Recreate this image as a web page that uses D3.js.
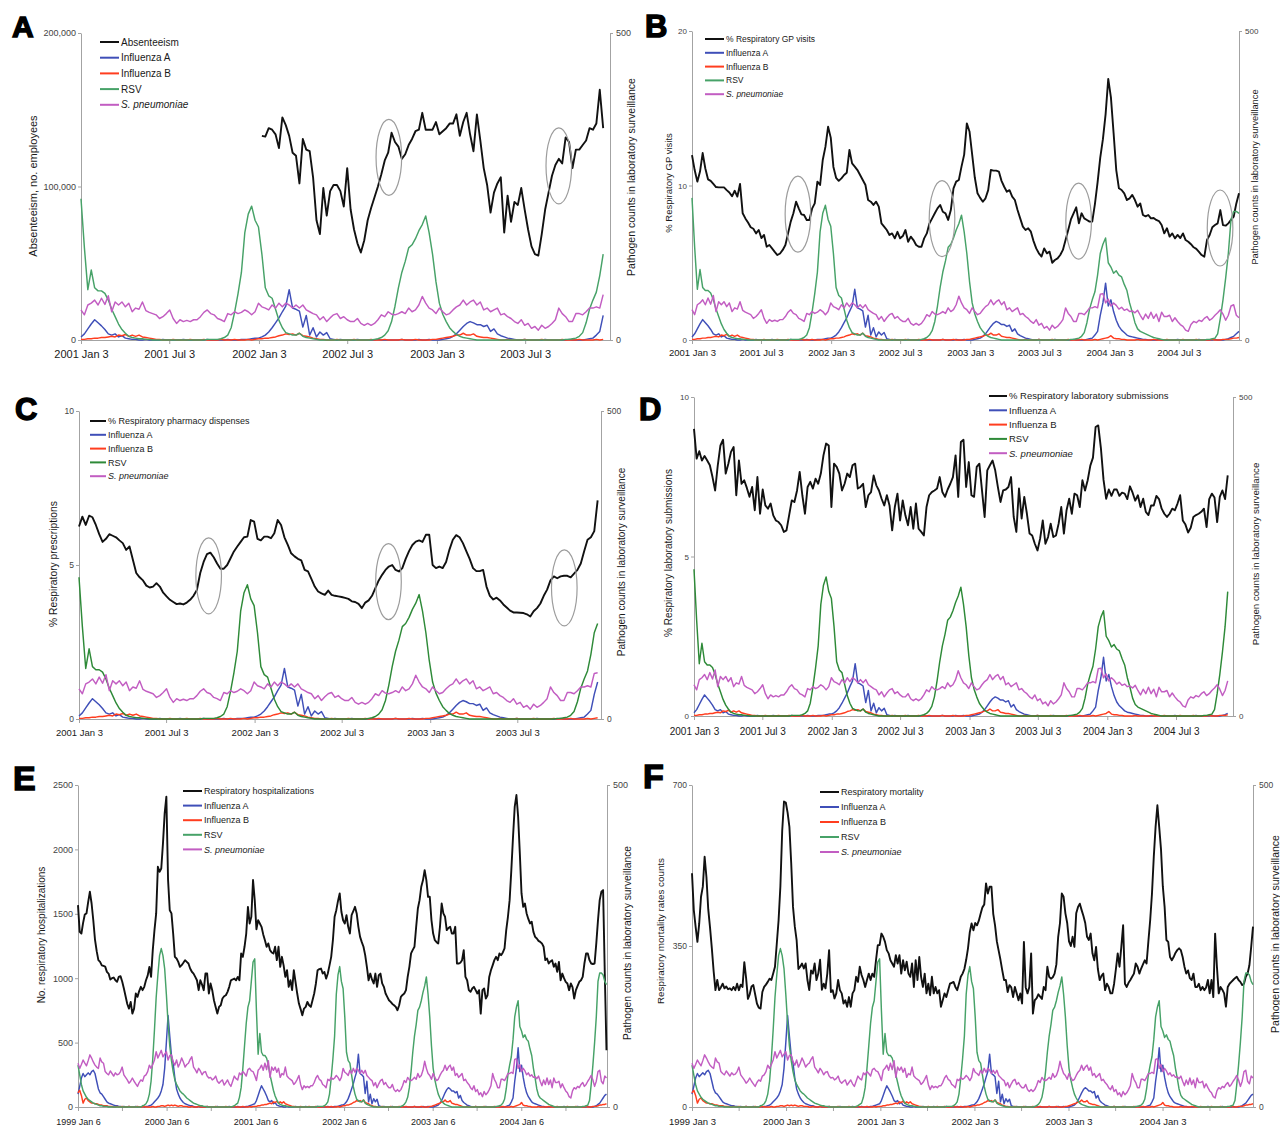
<!DOCTYPE html>
<html>
<head>
<meta charset="utf-8">
<script src="https://cdn.jsdelivr.net/npm/d3@7"></script>
<style>
  body { margin: 0; background: #fff; }
  svg { display: block; font-family: "Liberation Sans", Arial, sans-serif; }
</style>
</head>
<body>
<svg id="chart" width="1280" height="1126"></svg>
<script>
// weekly laboratory surveillance counts, index 0 = 1999 Jan 3 (one row per year)
var fluA = [
  20,32,45,52,47,50,53,50,55,57,52,40,28,22,20,16,12,8,6,5,4,3,2,2,1,1, 0,1,0,0,1,0,0,0,1,0,0,0,1,0, 1,1,2,3,5,8,11,14,18,25,35,60,
  100,142,110,80,68,45,28,20,14,10,7,5,4,3,2,2,1, 0,0,1,0,0,0,0,1,0,0,0,0,0,1,0,0,0,0,0,0,1,0,0,0,0,1,0,0,0,0,1, 1,2,3,4,
  5,10,18,26,33,28,23,17,10,8,10,5,7,3,2,1, 1,0,0,1,0,0,0,0,1,0,0,0,0,0,1,0,0,0,0,0,0,1,0,0,0,0,0,1,0,0,0,1,1,1, 2,3,
  3,5,8,13,20,28,36,46,55,82,52,50,47,21,40,8,20,5,13,8,12,2,1, 0,1,0,0,0,0,1,0,0,0,0,0,1,0,0,0,0,0,0,1,0,0,0,0,1,0,0,1,0,
  0,0, 1,2,3,6,10,16,22,27,30,28,25,25,22,24,14,18,10,7,5,3,2,1, 0,0,1,0,0,0,0,0,1,0,0,0,0,0,0,1,0,0,0,0, 1,2,3,8,14,40,60,92,
  55,65,46,32,22,16,12,8,6,5,4,3,2,1, 1,0,0,0,0,1,0,0,0,0,0,0,1,0,0,0,0,0,0,0,1,0,0,0,0,0,1,0,0,0,1, 2,4,6,10,14,18,20
];
var fluB = [
  22,26,18,6,12,14,10,8,6,6,5,5,4,3,3,2,2,2,1,1, 1,0,0,1,0,0,1,0,0,0,1,0,0,0,0,1,0,0,0,1,0,0,0,0,1,0,0,1, 1,2,2,1,
  2,3,2,3,2,3,2,1,2,2,1,1,1,0, 0,1,0,0,0,1,0,0,0,0,1,0,0,0,0,1,0,0,0,0,0,1,0,0,0,0,1,0,0,0,0,1,0,0,0,1,0,1,
  1, 1,2,2,3,3,4,4,5,6,5,8,7,9,6,8,6,8,5,4,3,2,1, 1,0,0,0,1,0,0,0,0,1,0,0,0,1,0,0,0,0,1,0,0,0,1,0,0,0,1,0, 1,
  2,2,3,3,4,5,7,8,10,9,10,8,11,7,6,5,3,2,1, 1,0,0,0,1,0,0,0,0,1,0,0,0,0,1,0,0,0,1,0,0,0,0,1,0,0,0,1,0,0,0,0,1,
  1,2,3,4,5,6,8,8,11,8,8,10,6,5,4,4,3,2,1, 0,0,1,0,0,0,0,1,0,0,0,0,1,0,0,0,0,0,1,0,0,0,0,1,0,0,0,0,1,0, 1,2,3,
  4,7,3,2,2,1, 1,0,0,0,0,1,0,0,0,0,0,1,0,0,0,0,1,0,0,0,0,0,1,0,0,0,0,1,0,0,0,0,0,1,0,0,0,1,1, 1,2,3,3,4,4,5
];
var rsv = [
  65,50,35,25,20,15,12,10,8,6,5,4,3,2,2,1,1,1, 0,0,0,0,0,0,0,0,0,0,0,0,0,0,0,0,0,0,0,0, 2,3,5,10,20,40,75,120,170,205,235,246,235,215,
  175,130,95,72,55,42,35,30,25,22,20,17,14,12,10,8,6,5,4,3,2,2,1,1, 0,0,0,0,0,0,0,0,0,0,0,0,0,0,0, 1,2,4,6,15,30,60,95,130,155,165,195,225,
  230,150,82,114,85,80,80,76,65,50,38,26,17,11,6,4,3,2,2,1,1, 0,0,0,0,0,0,0,0,0,0,0,0,0,0,0,0, 1,1,1,1,2,4,8,20,45,75,110,175,205,218,195,
  184,140,85,72,68,50,32,20,12,10,8,8,11,6,4,3,2,1, 0,0,0,0,0,0,0,0,0,0,0,0,0,0,0,0, 1,2,4,8,15,30,55,85,110,128,150,155,165,178,188,202,175,140,
  95,60,42,30,20,14,9,6,4,3,2,1, 0,0,0,0,0,0,0,0,0,0,0,0,0,0,0,0,0,0,0,0,0,0,0,0,0,0, 1,1,2,3,6,12,28,50,65,78,105,140,155,165,
  125,118,108,112,105,102,90,80,60,45,28,18,14,12,10,8,6,4,3,2,1, 0,0,0,0,0,0,0,0,0,0,0,0,0,0,0,0, 1,1,2,3,10,35,65,100,140,195,208,208,205,195,190
];
var spn = [
  68,60,66,73,68,64,72,81,76,70,65,62,60,76,70,68,55,52,50,56,52,48,53,50,51,55,62,50,46,42,37,40,45,40,36,32,38,42,40,48,50,55,65,60,66,73,86,76,82,88,78,82,
  86,73,80,81,70,65,73,62,68,76,70,62,66,68,74,78,62,58,53,60,56,50,54,55,48,45,46,42,44,48,40,37,40,42,34,38,42,36,32,40,48,44,42,53,50,55,52,48,58,60,56,55,
  49,41,57,60,65,57,68,58,72,46,62,57,62,54,60,46,52,50,62,48,45,43,41,35,38,43,49,35,27,33,30,32,30,33,33,38,45,49,43,41,35,33,30,43,41,46,43,45,49,46,41,46,
  60,54,52,49,57,52,60,54,60,57,52,57,52,57,49,46,43,41,33,38,30,36,41,43,35,38,33,30,30,35,27,24,27,24,27,33,41,38,46,42,41,43,46,43,52,46,49,57,71,60,52,49,
  43,52,46,41,43,49,54,57,65,57,62,65,57,62,49,52,46,49,52,41,43,38,35,30,27,33,24,27,19,22,16,24,19,22,27,33,52,43,38,30,30,43,43,41,46,52,52,54,52,74,75,60,
  66,55,60,56,50,53,48,50,46,47,44,48,40,33,42,35,45,35,42,30,45,38,38,40,30,36,30,25,22,16,14,25,30,28,32,30,35,38,32,35,40,44,49,42,32,40,55,57,40,36,48,45
];

// A: absenteeism, first value is week 53 after 2001 Jan 3
var absenteeismFrom = 53;
var absenteeism = [
  133000,132500,138000,137000,134000,125000,145000,140000,133000,122000,
  120000,102000,131000,124000,123000,106000,78000,69000,99000,81000,
  97000,101000,101000,97000,87000,112000,85000,72000,63000,57000,
  65000,78000,86000,93000,100000,108000,117000,122000,135000,129000,
  126000,118000,121000,127000,131000,136000,137000,148000,137000,137000,
  137000,142000,134000,136000,138000,141000,141000,147000,133000,142000,
  148000,134000,123000,147000,130000,112000,101000,83000,96000,102000,
  106000,70000,94000,77000,90000,88000,99000,85000,72000,61000,
  56000,55000,69000,85000,96000,107000,114000,118000,115000,132000,
  129000,112000,124000,124000,127000,130000,138000,137000,141000,163000,
  138000
];
// B: % respiratory GP visits, from 2001 Jan 3
var gpVisits = [
  11.97,11.0,10.25,10.9,12.1,11.1,10.4,10.3,10.1,9.9,
  9.88,9.88,9.88,9.7,9.55,9.3,9.66,9.28,10.1,8.2,
  7.87,7.6,7.3,7.2,6.9,7.12,6.6,6.8,6.04,6.15,
  5.93,5.7,5.5,5.6,5.83,6.15,6.9,7.66,8.2,8.95,
  8.52,8.13,8.09,7.77,7.77,8.5,8.84,10.25,10.03,11.65,
  12.5,13.8,13.1,11.2,10.5,10.3,10.46,10.68,10.83,12.3,
  11.43,11.22,11.0,10.68,10.36,10.03,9.06,8.95,8.74,8.95,
  8.63,7.55,7.34,7.12,6.8,6.9,6.58,7.0,6.58,6.73,
  7.12,6.36,6.69,6.47,6.15,6.04,6.04,6.58,6.9,7.55,
  7.87,8.2,8.52,8.74,8.3,8.2,7.77,8.41,9.82,10.25,
  10.36,11.22,12.0,14.02,13.5,12.0,10.5,9.5,9.2,8.95,
  9.17,9.7,11.0,10.96,10.96,10.9,10.3,9.92,9.6,9.7,
  9.28,9.06,8.41,7.87,7.34,7.12,7.23,7.01,6.4,5.93,
  5.61,5.4,5.93,5.61,5.72,5.0,5.18,5.28,5.5,5.83,
  6.47,7.12,7.8,8.2,8.59,7.55,8.2,7.87,7.77,7.66,
  7.66,8.8,10.2,11.8,13.0,14.6,16.9,15.7,13.4,11.0,
  9.82,9.71,9.49,9.06,9.17,9.39,9.06,8.63,8.84,8.09,
  8.0,8.09,7.87,7.9,7.77,7.7,7.44,6.9,7.23,6.69,
  6.9,6.58,6.8,6.6,6.9,6.47,6.36,6.2,6.0,5.9,
  5.7,5.5,5.39,6.47,6.8,7.3,7.44,7.55,8.41,7.44,
  7.4,7.55,7.77,7.98,8.84,9.5
];
// C: % respiratory pharmacy dispenses
var pharmacy = [
  6.25,6.57,6.3,6.6,6.55,6.3,6.0,5.75,5.85,6.0,
  5.95,5.9,5.8,5.71,5.49,5.6,5.17,4.74,4.6,4.5,
  4.33,4.27,4.3,4.41,4.3,4.1,3.98,3.87,3.8,3.73,
  3.75,3.72,3.78,3.87,4.0,4.19,4.74,5.1,5.35,5.4,
  5.25,5.05,4.88,4.88,5.0,5.22,5.44,5.6,5.75,5.9,
  5.92,6.46,6.41,5.85,5.8,5.92,5.92,5.87,6.03,6.46,
  6.3,5.9,5.65,5.38,5.28,5.2,5.15,4.84,4.79,4.55,
  4.3,4.14,4.08,4.03,4.17,4.03,4.0,3.98,3.96,3.93,
  3.9,3.82,3.8,3.74,3.6,3.78,3.85,4.0,4.25,4.5,
  4.68,4.84,4.95,5.0,4.84,4.79,4.9,5.2,5.45,5.65,
  5.76,5.8,5.75,5.98,5.98,5.0,4.9,4.95,4.9,5.1,
  5.5,5.82,5.97,5.9,5.71,5.45,5.2,4.9,4.8,4.8,
  4.84,4.3,4.0,3.88,3.94,3.85,3.72,3.62,3.52,3.46,
  3.46,3.45,3.44,3.4,3.33,3.5,3.6,3.75,4.0,4.2,
  4.5,4.63,4.57,4.63,4.65,4.65,4.6,4.72,4.84,5.05,
  5.45,5.82,5.9,6.1,7.1
];
// D: % respiratory laboratory submissions
var labSubs = [
  9.0,8.07,8.3,8.01,8.15,8.01,7.86,7.49,7.07,7.86,
  8.48,8.66,7.6,7.91,8.28,8.43,6.92,8.01,7.28,7.39,
  7.15,6.87,7.18,6.45,7.49,6.34,7.1,6.6,6.5,6.66,
  6.29,6.13,6.08,5.98,5.77,5.82,6.29,6.76,6.71,7.07,
  7.65,6.92,6.34,7.18,7.34,7.13,7.44,7.28,7.6,8.17,
  8.54,8.48,6.55,7.91,7.81,7.6,7.07,7.28,7.6,7.49,
  7.86,7.91,7.13,7.18,7.28,6.55,6.92,7.02,7.54,7.23,
  7.07,6.81,6.6,6.92,6.6,5.82,6.55,6.97,6.13,6.76,
  6.29,5.98,6.55,5.87,6.66,5.87,5.77,5.66,6.55,6.92,
  7.02,7.07,7.13,7.49,7.02,6.87,7.1,7.28,7.49,8.17,
  6.87,8.59,8.66,7.18,7.96,6.92,6.87,7.81,7.91,7.07,
  6.24,7.7,7.86,8.01,7.7,7.18,6.71,7.07,7.1,7.18,
  7.49,6.24,5.77,7.13,6.19,6.87,6.34,5.72,5.66,5.4,
  5.19,5.56,6.13,5.4,5.61,6.03,5.61,5.66,6.03,6.55,
  5.72,6.45,6.81,6.34,6.97,6.92,6.55,7.39,7.07,7.39,
  7.85,8.1,9.06,9.11,8.4,7.4,6.81,7.1,6.9,7.1,
  7.1,6.9,7.0,6.97,6.8,7.2,7.0,6.75,6.92,6.55,
  6.81,6.4,6.3,6.6,6.6,6.9,6.8,6.5,6.34,6.24,
  6.34,6.5,6.45,6.66,6.92,6.13,6.0,5.75,5.9,6.24,
  6.3,6.34,6.4,6.5,5.92,6.8,6.97,6.85,6.08,6.87,
  7.07,6.8,7.54
];
// E: respiratory hospitalizations, from 1999 Jan 6
var hospital = [
  1567,1360,1347,1430,1495,1503,1593,1671,1580,1450,
  1300,1210,1140,1127,1100,1095,1090,1049,1036,990,
  1000,1005,984,972,1010,1016,975,920,860,800,
  764,816,725,764,881,855,900,933,907,933,
  984,1020,1088,1010,1218,1373,1503,1865,1826,1852,
  2047,2280,2409,1762,1528,1503,1347,1166,1153,1127,
  1088,1101,1120,1140,1127,1114,1075,1050,1036,1010,
  984,907,984,950,907,1036,1036,881,959,907,
  829,777,725,777,790,842,860,868,894,933,
  984,990,997,984,1010,984,1192,1166,1244,1347,
  1554,1425,1477,1762,1606,1380,1451,1425,1399,1340,
  1295,1244,1270,1218,1200,1192,1244,1140,1244,1088,
  1166,1100,1010,1062,933,984,907,1062,972,881,
  803,760,712,764,777,816,790,777,829,881,
  959,1062,1070,1075,1036,1049,997,1036,1100,1166,
  1295,1477,1528,1600,1658,1516,1450,1425,1490,1399,
  1347,1490,1520,1554,1503,1399,1321,1280,1244,1179,
  1088,984,1036,990,959,1036,933,1023,1036,960,
  933,881,855,829,816,800,790,777,751,790,
  855,870,881,907,1010,1088,1192,1220,1244,1399,
  1541,1606,1710,1760,1839,1762,1632,1632,1451,1347,
  1295,1280,1270,1399,1580,1503,1477,1373,1390,1399,
  1347,1347,1399,1114,1114,1120,1140,1218,1010,984,
  907,894,920,933,907,881,907,725,907,920,
  842,868,1010,1062,1100,1140,1166,1140,1192,1179,
  1200,1231,1373,1477,1606,1839,2098,2332,2422,2254,
  1969,1658,1554,1580,1503,1460,1425,1438,1360,1321,
  1308,1290,1282,1270,1244,1140,1153,1114,1130,1140,
  1088,1114,1049,1127,984,1036,1000,972,959,907,
  959,930,842,907,940,972,984,1010,1114,1192,
  1192,1140,1114,1110,1114,1270,1451,1606,1671,1684,
  1036,440
];
// F: respiratory mortality, from 1999 Jan 3
var mortality = [
  508,428,392,359,399,457,479,544,500,430,
  390,345,295,254,276,254,260,268,258,262,
  256,258,254,261,254,268,254,266,261,315,
  280,235,245,262,265,245,225,216,214,250,
  261,266,272,279,276,290,305,355,406,480,
  600,664,662,640,609,530,435,392,363,300,
  305,312,301,312,276,254,297,290,312,276,
  290,320,255,268,258,290,341,250,254,236,
  247,276,254,247,225,232,218,239,218,247,
  254,283,272,305,287,276,261,276,290,276,
  290,283,319,352,352,377,370,359,341,334,
  319,312,305,330,312,330,290,319,297,316,
  290,283,312,261,319,276,326,283,261,290,
  247,268,243,283,247,261,247,254,218,232,
  247,239,254,268,270,272,261,254,268,283,
  290,300,320,345,380,399,384,400,395,405,
  420,434,440,486,464,479,479,420,395,360,
  340,320,297,276,276,250,265,260,239,261,
  247,232,247,225,359,260,247,261,334,203,
  232,236,245,240,235,261,254,305,283,279,
  282,290,310,370,400,464,457,421,400,360,
  350,370,348,421,435,442,428,415,400,370,
  363,377,334,319,348,300,276,285,290,254,
  268,261,247,247,268,300,334,305,348,395,
  268,261,270,276,283,290,312,305,290,301,
  310,319,312,360,406,464,544,609,656,609,
  560,480,435,363,359,326,319,326,335,341,
  345,341,326,305,290,297,280,276,290,261,
  261,268,254,261,254,260,276,247,276,239,
  377,305,247,261,255,247,218,261,268,272,
  276,280,283,276,272,265,268,283,290,308,
  348,392
];

// tick labels
var ticksAC = ["2001 Jan 3", "2001 Jul 3", "2002 Jan 3", "2002 Jul 3", "2003 Jan 3", "2003 Jul 3"];
var ticksBD = ["2001 Jan 3", "2001 Jul 3", "2002 Jan 3", "2002 Jul 3", "2003 Jan 3", "2003 Jul 3", "2004 Jan 3", "2004 Jul 3"];
var ticksE = ["1999 Jan 6", "2000 Jan 6", "2001 Jan 6", "2002 Jan 6", "2003 Jan 6", "2004 Jan 6"];
var ticksEminor = ["1999 Jul 6", "2000 Jul 6", "2001 Jul 6", "2002 Jul 6", "2003 Jul 6", "2004 Jul 6"];
var ticksF = ["1999 Jan 3", "2000 Jan 3", "2001 Jan 3", "2002 Jan 3", "2003 Jan 3", "2004 Jan 3"];
var ticksFminor = ["1999 Jul 3", "2000 Jul 3", "2001 Jul 3", "2002 Jul 3", "2003 Jul 3", "2004 Jul 3"];

// circled spots: [panel week, left-axis value]
var circlesA = [[90.2, 119000], [140, 113500]];
var circlesB = [[39.7, 8.15], [93.7, 7.85], [144.9, 7.7], [197.9, 7.25]];
var circlesC = [[38.5, 4.65], [91.9, 4.46], [144.1, 4.26]];

var pathogenNames = ["Influenza A", "Influenza B", "RSV", "S. pneumoniae"];

var blue = "#3f4fb8", red = "#ff3d1f", magenta = "#c25dc2", black = "#111";
var greenLight = "#47a268", greenDark = "#2e8a38";

var panels = [
  { letter: "A", from: 104, n: 154, span: 155, main: absenteeism, mainFrom: absenteeismFrom,
    yMax: 200000, yTicks: [0, 100000, 200000], fmt: d3.format(","), name: "Absenteeism",
    yTitle: "Absenteeism, no. employees", ticks: ticksAC, minor: [], circles: circlesA, green: greenLight,
    box: { x0: 81, x1: 610, y0: 33, y1: 340 }, lpos: [12, 37, 30],
    legend: { x: 100, y: 42, dy: 15.7, w: 19, fs: 10 },
    fsTick: 9, fsX: 11, xPad: 6, titles: [[33, 186, 11], [631, 177, 10.5]] },
  { letter: "B", from: 104, n: 206, span: 205, main: gpVisits, mainFrom: 0,
    yMax: 20, yTicks: [0, 10, 20], fmt: d3.format("d"), name: "% Respiratory GP visits",
    yTitle: "% Respiratory GP visits", ticks: ticksBD, minor: [], circles: circlesB, green: greenLight,
    box: { x0: 692, x1: 1239, y0: 31, y1: 340 }, lpos: [645, 37, 31],
    legend: { x: 705, y: 39, dy: 13.8, w: 19, fs: 8.5 },
    fsTick: 8, fsX: 9.5, xPad: 5.5, titles: [[668, 183, 9.5], [1255, 177, 9.3]] },
  { letter: "C", from: 104, n: 155, span: 155, main: pharmacy, mainFrom: 0,
    yMax: 10, yTicks: [0, 5, 10], fmt: d3.format("d"), name: "% Respiratory pharmacy dispenses",
    yTitle: "% Respiratory prescriptions", ticks: ticksAC, minor: [], circles: circlesC, green: greenDark,
    box: { x0: 79, x1: 601, y0: 411, y1: 719 }, lpos: [15, 420, 31],
    legend: { x: 90, y: 421, dy: 13.8, w: 16, fs: 9 },
    fsTick: 8.5, fsX: 9.5, xPad: 6.5, titles: [[53, 564, 10.3], [621, 562, 10]] },
  { letter: "D", from: 104, n: 203, span: 204, main: labSubs, mainFrom: 0,
    yMax: 10, yTicks: [0, 5, 10], fmt: d3.format("d"), name: "% Respiratory laboratory submissions",
    yTitle: "% Respiratory laboratory submissions", ticks: ticksBD, minor: [], circles: [], green: greenDark,
    box: { x0: 694, x1: 1233, y0: 397, y1: 716 }, lpos: [639, 420, 31],
    legend: { x: 989, y: 396, dy: 14.3, w: 18, fs: 9.5 },
    fsTick: 8, fsX: 10, xPad: 8, titles: [[668, 553, 10], [1255, 554, 9.7]] },
  { letter: "E", from: 0, n: 312, span: 311.3, main: hospital, mainFrom: 0,
    yMax: 2500, yTicks: [0, 500, 1000, 1500, 2000, 2500], fmt: d3.format("d"), name: "Respiratory hospitalizations",
    yTitle: "No. respiratory hospitalizations", ticks: ticksE, minor: ticksEminor, circles: [], green: greenLight,
    box: { x0: 78, x1: 607, y0: 785, y1: 1107 }, lpos: [13, 790, 34],
    legend: { x: 183, y: 791, dy: 14.6, w: 19, fs: 9 },
    fsTick: 9, fsX: 9, xPad: 7.5, titles: [[41, 935, 10], [627, 943, 10.3]] },
  { letter: "F", from: 0, n: 312, span: 311, main: mortality, mainFrom: 0,
    yMax: 700, yTicks: [0, 350, 700], fmt: d3.format("d"), name: "Respiratory mortality",
    yTitle: "Respiratory mortality rates counts", ticks: ticksF, minor: ticksFminor, circles: [], green: greenLight,
    box: { x0: 692, x1: 1253, y0: 785, y1: 1107 }, lpos: [643, 788, 34],
    legend: { x: 820, y: 792, dy: 15, w: 19, fs: 9 },
    fsTick: 8.5, fsX: 9.5, xPad: 7.5, titles: [[660, 931, 9.8], [1275, 934, 10.5]] }
];

var svg = d3.select("#chart");
var parseTick = d3.timeParse("%Y %b %d");
var weekMs = 7 * 864e5;

panels.forEach(function(p) {
  var start = parseTick(p.ticks[0]);
  var weekOf = function(label) { return (parseTick(label) - start) / weekMs; };
  var b = p.box;

  var x = d3.scaleLinear().domain([0, p.span]).range([b.x0, b.x1]);
  var yL = d3.scaleLinear().domain([0, p.yMax]).range([b.y1, b.y0]);
  var yR = d3.scaleLinear().domain([0, 500]).range([b.y1, b.y0]);

  var g = svg.append("g");

  // axes
  var tickWeeks = p.ticks.concat(p.minor).map(weekOf);
  var labelAt = function(w) {
    var hit = p.ticks.filter(function(t) { return Math.abs(weekOf(t) - w) < 1e-6; });
    return hit.length ? hit[0] : "";
  };
  var gx = g.append("g").attr("transform", "translate(0," + b.y1 + ")")
    .call(d3.axisBottom(x).tickValues(tickWeeks).tickFormat(labelAt)
      .tickSize(4).tickSizeOuter(0).tickPadding(p.xPad));
  gx.selectAll("text").style("font-size", p.fsX + "px").attr("fill", "#1a1a1a");

  var gl = g.append("g").attr("transform", "translate(" + b.x0 + ",0)")
    .call(d3.axisLeft(yL).tickValues(p.yTicks).tickFormat(p.fmt)
      .tickSize(3).tickSizeOuter(0).tickPadding(2));
  gl.selectAll("text").style("font-size", p.fsTick + "px").attr("fill", "#444");

  var gr = g.append("g").attr("transform", "translate(" + b.x1 + ",0)")
    .call(d3.axisRight(yR).tickValues([0, 500])
      .tickSize(3).tickSizeOuter(0).tickPadding(3));
  gr.selectAll("text").style("font-size", p.fsTick + "px").attr("fill", "#444");

  g.selectAll(".domain, .tick line").attr("stroke", "#a3a3a3");
  g.selectAll(".tick text").attr("font-family", "Liberation Sans, Arial, sans-serif");

  // series
  var slice = function(arr) { return arr.slice(p.from, p.from + p.n); };
  var pathLine = d3.line()
    .x(function(d, i) { return x(i); })
    .y(function(d) { return yR(d); });
  var mainLine = d3.line()
    .x(function(d, i) { return x(i + p.mainFrom); })
    .y(function(d) { return yL(d); });

  g.append("path").datum(p.main).attr("d", mainLine)
    .attr("fill", "none").attr("stroke", black).attr("stroke-width", 1.9)
    .attr("stroke-linejoin", "round");

  var colors = [blue, red, p.green, magenta];
  [fluA, fluB, rsv, spn].forEach(function(arr, k) {
    g.append("path").datum(slice(arr)).attr("d", pathLine)
      .attr("fill", "none").attr("stroke", colors[k]).attr("stroke-width", 1.45)
      .attr("stroke-linejoin", "round");
  });

  // circles
  g.selectAll("ellipse.mark").data(p.circles).join("ellipse")
    .attr("class", "mark")
    .attr("cx", function(d) { return x(d[0]); })
    .attr("cy", function(d) { return yL(d[1]); })
    .attr("rx", 12.8).attr("ry", 38)
    .attr("fill", "none").attr("stroke", "#9c9c9c").attr("stroke-width", 1.2);

  // legend
  var names = [p.name].concat(pathogenNames);
  var legColors = [black].concat(colors);
  var lg = g.append("g").selectAll("g").data(names).join("g")
    .attr("transform", function(d, i) {
      return "translate(" + p.legend.x + "," + (p.legend.y + i * p.legend.dy) + ")";
    });
  lg.append("line").attr("x1", 0).attr("x2", p.legend.w)
    .attr("stroke", function(d, i) { return legColors[i]; }).attr("stroke-width", 2);
  lg.append("text").attr("x", p.legend.w + 2).attr("dy", "0.35em")
    .style("font-size", p.legend.fs + "px").attr("fill", "#1a1a1a")
    .style("font-style", function(d, i) { return i === 4 ? "italic" : null; })
    .text(function(d) { return d; });

  // axis titles
  [p.yTitle, "Pathogen counts in laboratory surveillance"].forEach(function(t, k) {
    var tt = p.titles[k];
    g.append("text")
      .attr("transform", "translate(" + tt[0] + "," + tt[1] + ") rotate(-90)")
      .attr("text-anchor", "middle").attr("dominant-baseline", "central")
      .style("font-size", tt[2] + "px").attr("fill", "#1a1a1a")
      .text(t);
  });

  // panel letter
  g.append("text").attr("x", p.lpos[0]).attr("y", p.lpos[1])
    .style("font-size", p.lpos[2] + "px").style("font-weight", "bold")
    .attr("fill", "#000").attr("stroke", "#000").attr("stroke-width", 1.4)
    .text(p.letter);
});
</script>
</body>
</html>
